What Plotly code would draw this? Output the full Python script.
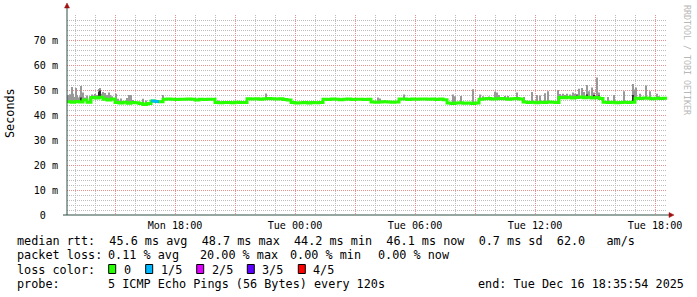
import plotly.graph_objects as go
import pandas as pd

# ---------------- data ----------------
start_time = "2025-12-15 12:36"      # first median sample
step_minutes = 12                      # consolidation step
range_start = "2025-12-15 12:35:54"
range_end = "2025-12-16 18:35:54"

median_ms = [
    45.3, 45.1, 45.4, 45.2, 46.0, 45.1, 47.0, 46.8, 47.1, 46.3, 46.0, 46.4,
    45.0, 44.8, 45.1, 44.7, 45.0, 44.9, 44.6, 44.2, 44.6, 45.6, 45.4, 45.3,
    46.3, 46.4, 46.3, 46.2, 46.3, 46.3, 46.4, 46.3, 46.0, 46.3, 46.2, 46.3, 46.3,
    45.0, 44.9, 45.0, 45.0, 44.9, 45.1, 45.0, 45.0,
    46.5, 46.4, 46.5, 46.3, 46.5, 46.6, 46.5, 46.4, 46.5, 46.2, 46.0,
    45.0, 44.8, 44.9, 45.0, 44.8, 45.0, 44.9, 45.0,
    46.3, 46.2, 46.4, 46.3, 46.1, 46.3, 46.4, 46.2, 46.3, 46.3, 46.2, 46.3,
    45.2, 45.1, 45.2, 45.3, 45.2, 45.1, 45.2,
    46.4, 46.4, 46.2, 46.4, 46.3, 46.4, 46.4, 46.3, 46.4, 46.2, 46.4, 46.1,
    44.8, 44.6, 44.8, 44.9, 44.7, 44.8, 44.6, 44.8,
    46.3, 46.5, 46.6, 46.4, 46.5, 46.6, 46.5, 46.3, 46.5, 46.6, 46.4,
    45.2, 45.0, 45.1, 44.9, 45.1, 45.0, 45.2, 45.1, 45.0,
    47.0, 46.9, 47.1, 46.8, 47.0, 47.2, 46.9, 47.1, 46.8, 47.0, 46.6,
    45.1, 45.0, 45.1, 44.9, 45.0, 45.1, 45.0, 45.1,
    46.7, 46.6, 46.8, 46.7, 46.5, 46.7, 46.6, 46.7,
]
# lost pings (out of 5) per step
loss_fifths = [0] * 21 + [1, 1] + [0] * 127

smoke_times = [
    "2025-12-15 12:39", "2025-12-15 12:42", "2025-12-15 12:45", "2025-12-15 12:51",
    "2025-12-15 12:54", "2025-12-15 12:57", "2025-12-15 13:03", "2025-12-15 13:06",
    "2025-12-15 13:09", "2025-12-15 13:15", "2025-12-15 13:18", "2025-12-15 13:24",
    "2025-12-15 13:30", "2025-12-15 13:36", "2025-12-15 13:45", "2025-12-15 13:51",
    "2025-12-15 14:00", "2025-12-15 14:06", "2025-12-15 14:12", "2025-12-15 14:15",
    "2025-12-15 14:21", "2025-12-15 14:24", "2025-12-15 14:30", "2025-12-15 14:36",
    "2025-12-15 14:42", "2025-12-15 14:45", "2025-12-15 14:51", "2025-12-15 15:03",
    "2025-12-15 15:09", "2025-12-15 15:18", "2025-12-15 15:36", "2025-12-15 15:42",
    "2025-12-15 15:48", "2025-12-15 15:54", "2025-12-15 16:24", "2025-12-15 16:33",
    "2025-12-15 17:24", "2025-12-15 20:09", "2025-12-15 22:33",
    "2025-12-16 04:09", "2025-12-16 04:15", "2025-12-16 04:30", "2025-12-16 05:27",
    "2025-12-16 07:54", "2025-12-16 08:00", "2025-12-16 08:18", "2025-12-16 08:54",
    "2025-12-16 09:15", "2025-12-16 09:24", "2025-12-16 09:33", "2025-12-16 09:42",
    "2025-12-16 10:00", "2025-12-16 10:06", "2025-12-16 10:12", "2025-12-16 10:30",
    "2025-12-16 10:39", "2025-12-16 11:06", "2025-12-16 11:27", "2025-12-16 11:51",
    "2025-12-16 12:06", "2025-12-16 12:15", "2025-12-16 12:30", "2025-12-16 12:39",
    "2025-12-16 13:09", "2025-12-16 13:15", "2025-12-16 13:24", "2025-12-16 13:30",
    "2025-12-16 13:36", "2025-12-16 13:45", "2025-12-16 13:54", "2025-12-16 14:00",
    "2025-12-16 14:06", "2025-12-16 14:12", "2025-12-16 14:21", "2025-12-16 14:27",
    "2025-12-16 14:36", "2025-12-16 14:42", "2025-12-16 14:51", "2025-12-16 14:57",
    "2025-12-16 15:06", "2025-12-16 15:12", "2025-12-16 15:39", "2025-12-16 15:57",
    "2025-12-16 16:27", "2025-12-16 16:54", "2025-12-16 17:00", "2025-12-16 17:03",
    "2025-12-16 17:15", "2025-12-16 17:33", "2025-12-16 17:45", "2025-12-16 18:06",
    "2025-12-16 18:12",
]
smoke_top_ms = [
    48.0, 47.5, 48.3, 51.2, 48.5, 47.2, 50.8, 48.0,
    47.0, 47.5, 51.6, 49.0, 47.0, 47.8, 47.5, 48.2,
    48.4, 48.0, 50.4, 50.8, 48.5, 49.2, 48.8, 48.0,
    49.0, 48.0, 47.5, 48.5, 46.5, 46.6, 46.8, 48.0,
    48.0, 46.0, 46.5, 45.8, 48.0, 45.8, 48.6,
    47.0, 46.6, 46.0, 48.2,
    48.2, 47.5, 47.6, 50.3, 48.2, 47.5, 47.2, 47.4,
    49.3, 49.0, 48.0, 47.6, 47.6, 49.0, 47.2, 49.2,
    48.0, 47.8, 48.7, 49.5, 50.0, 48.4, 48.5, 48.0,
    48.5, 48.2, 49.0, 48.5, 48.4, 50.5, 50.8, 49.2,
    52.0, 49.5, 51.0, 49.0, 55.0, 49.0, 47.2, 48.0,
    49.5, 52.4, 50.2, 51.0, 48.5, 51.8, 49.5, 48.5,
    47.5,
]
dark_times = ["2025-12-15 14:12", "2025-12-15 14:15", "2025-12-15 13:18",
              "2025-12-16 13:24", "2025-12-16 14:06", "2025-12-16 14:36",
              "2025-12-16 14:57", "2025-12-16 15:12", "2025-12-16 16:54"]
dark_top_ms = [49.2, 49.8, 47.0, 47.6, 47.8, 48.2, 48.0, 47.8, 48.0]

x_tick_times = ["2025-12-15 15:00", "2025-12-15 18:00", "2025-12-15 21:00",
                "2025-12-16 00:00", "2025-12-16 03:00", "2025-12-16 06:00",
                "2025-12-16 09:00", "2025-12-16 12:00", "2025-12-16 15:00",
                "2025-12-16 18:00"]
x_tick_labels = ["", "Mon 18:00", "", "Tue 00:00", "", "Tue 06:00", "",
                 "Tue 12:00", "", "Tue 18:00"]
y_tick_vals = [0, 10, 20, 30, 40, 50, 60, 70, 80]
y_tick_labels = ["0\u00a0\u00a0", "10 m", "20 m", "30 m", "40 m", "50 m",
                 "60 m", "70 m", ""]

loss_labels = ["0", "1/5", "2/5", "3/5", "4/5"]
loss_colors = ["#26ff00", "#00b8ff", "#dd00ff", "#5e00ff", "#ff0000"]

stats_rtt = "median rtt:  45.6 ms avg  48.7 ms max  44.2 ms min  46.1 ms now  0.7 ms sd  62.0   am/s"
stats_loss = ["packet loss:", "0.11 % avg", "20.00 % max", "0.00 % min", "0.00 % now"]
probe_text = "5 ICMP Echo Pings (56 Bytes) every 120s"
end_text = "end: Tue Dec 16 18:35:54 2025"

# ---------------- layout helpers ----------------
W_FIG, H_FIG = 697, 297
L, T, W, H = 67, 15, 600, 200
MONO = "DejaVu Sans Mono"


def px(x):
    return (x - L) / W


def py(y):
    return (T + H - y) / H


times = pd.date_range(start_time, periods=len(median_ms), freq=f"{step_minutes}min")
t_end = pd.Timestamp(range_end)

fig = go.Figure()

# smoke
st = pd.to_datetime(smoke_times)
t0 = pd.Timestamp(start_time)
idx = [min(int((t - t0) / pd.Timedelta(minutes=step_minutes)), len(median_ms) - 1) for t in st]
base = [median_ms[i] - 0.3 for i in idx]
fig.add_trace(go.Bar(x=st, y=[top - b for top, b in zip(smoke_top_ms, base)], base=base,
                     width=5 * 60 * 1000, marker=dict(color="#999999", line=dict(width=0)),
                     hoverinfo="skip", showlegend=False))
dt = pd.to_datetime(dark_times)
didx = [min(int((t - t0) / pd.Timedelta(minutes=step_minutes)), len(median_ms) - 1) for t in dt]
dbase = [median_ms[i] - 0.3 for i in didx]
fig.add_trace(go.Bar(x=dt, y=[top - b for top, b in zip(dark_top_ms, dbase)], base=dbase,
                     width=3 * 60 * 1000, marker=dict(color="#303030", line=dict(width=0)),
                     hoverinfo="skip", showlegend=False))

# median line (green)
xs = list(times) + [t_end]
ys = list(median_ms) + [median_ms[-1]]
fig.add_trace(go.Scatter(x=xs, y=ys, mode="lines", line=dict(color=loss_colors[0], width=3, shape="hv"),
                         hoverinfo="skip", showlegend=False))
# loss coloured segments
for lvl in range(1, 5):
    sx, sy = [], []
    for i, l in enumerate(loss_fifths):
        if l == lvl:
            sx += [xs[i], xs[i + 1], None]
            sy += [ys[i], ys[i], None]
    if sx:
        fig.add_trace(go.Scatter(x=sx, y=sy, mode="lines", line=dict(color=loss_colors[lvl], width=3),
                                 hoverinfo="skip", showlegend=False))

grid_minor = "#bdbdbd"
grid_major = "#ec8c8c"

fig.update_layout(
    width=W_FIG, height=H_FIG,
    margin=dict(l=L, r=W_FIG - L - W, t=T, b=H_FIG - T - H, pad=0),
    paper_bgcolor="#ffffff", plot_bgcolor="#ffffff",
    barmode="overlay", showlegend=False,
    font=dict(family=MONO, size=11.8, color="#000000"),
    xaxis=dict(
        type="date", range=[range_start, range_end],
        tickmode="array", tickvals=x_tick_times, ticktext=x_tick_labels,
        showgrid=True, gridcolor=grid_major, griddash="1px,1px", gridwidth=1,
        minor=dict(dtick=3600000, tick0="2025-12-15 00:00", showgrid=True,
                   gridcolor=grid_minor, griddash="1px,1px", gridwidth=1),
        ticks="", showline=False, zeroline=False,
        tickfont=dict(family=MONO, size=10.1, color="#000000"),
        ticklabelstandoff=3,
    ),
    yaxis=dict(
        range=[0, 80], tickmode="array", tickvals=y_tick_vals, ticktext=y_tick_labels,
        showgrid=True, gridcolor=grid_major, griddash="1px,1px", gridwidth=1,
        minor=dict(dtick=2, tick0=0, showgrid=True, gridcolor=grid_minor,
                   griddash="1px,1px", gridwidth=1),
        ticks="", showline=False, zeroline=False,
        tickfont=dict(family=MONO, size=10.1, color="#000000"),
        ticklabelstandoff=8,
    ),
)

axis_col = "#2c4d43"
arrow_col = "#a01010"
shapes = [
    dict(type="line", xref="paper", yref="paper", x0=px(L), x1=px(L), y0=py(215), y1=py(6),
         line=dict(color=axis_col, width=1)),
    dict(type="line", xref="paper", yref="paper", x0=px(63), x1=px(670), y0=py(215), y1=py(215),
         line=dict(color=axis_col, width=1)),
    dict(type="path", xref="paper", yref="paper",
         path=f"M {px(64.5)} {py(8)} L {px(69.5)} {py(8)} L {px(67)} {py(3)} Z",
         fillcolor=arrow_col, line=dict(color=arrow_col, width=0.5)),
    dict(type="path", xref="paper", yref="paper",
         path=f"M {px(669)} {py(212.5)} L {px(669)} {py(217.5)} L {px(674)} {py(215)} Z",
         fillcolor=arrow_col, line=dict(color=arrow_col, width=0.5)),
]
box_x = [108.7, 145.7, 196.7, 247.3, 298.3]
for bx, col in zip(box_x, loss_colors):
    shapes.append(dict(type="rect", xref="paper", yref="paper",
                       x0=px(bx), x1=px(bx + 7), y0=py(273.5), y1=py(264.5),
                       fillcolor=col, line=dict(color="#000000", width=1)))
fig.update_layout(shapes=shapes)

ann = []


def text(x, y, s, size=11.8, color="#000000", anchor="left", angle=0):
    ann.append(dict(xref="paper", yref="paper", x=px(x), y=py(y), text=s, showarrow=False,
                    xanchor=anchor, yanchor="middle", textangle=angle, borderpad=0,
                    font=dict(family=MONO, size=size, color=color)))


row_y = [241.0, 255.3, 269.6, 284.0]
text(15.5, row_y[0], stats_rtt.replace(" ", "\u00a0"))
for xx, s in zip([15.5, 106.8, 199.4, 288.8, 376.5], stats_loss):
    text(xx, row_y[1], s.replace(" ", "\u00a0"))
text(15.5, row_y[2], "loss\u00a0color:")
for xx, s in zip([122.5, 159.5, 210.5, 261.2, 311.8], loss_labels):
    text(xx, row_y[2], s)
text(15.5, row_y[3], "probe:")
text(106.8, row_y[3], probe_text.replace(" ", "\u00a0"))
text(477.2, row_y[3], end_text.replace(" ", "\u00a0"))
text(10, 113, "Seconds", anchor="center", angle=-90)
text(687, 60, "RRDTOOL\u00a0/\u00a0TOBI\u00a0OETIKER", size=8.3, color="#b8b8b8",
     anchor="center", angle=90)
fig.update_layout(annotations=ann)

fig.write_html("out.html")
